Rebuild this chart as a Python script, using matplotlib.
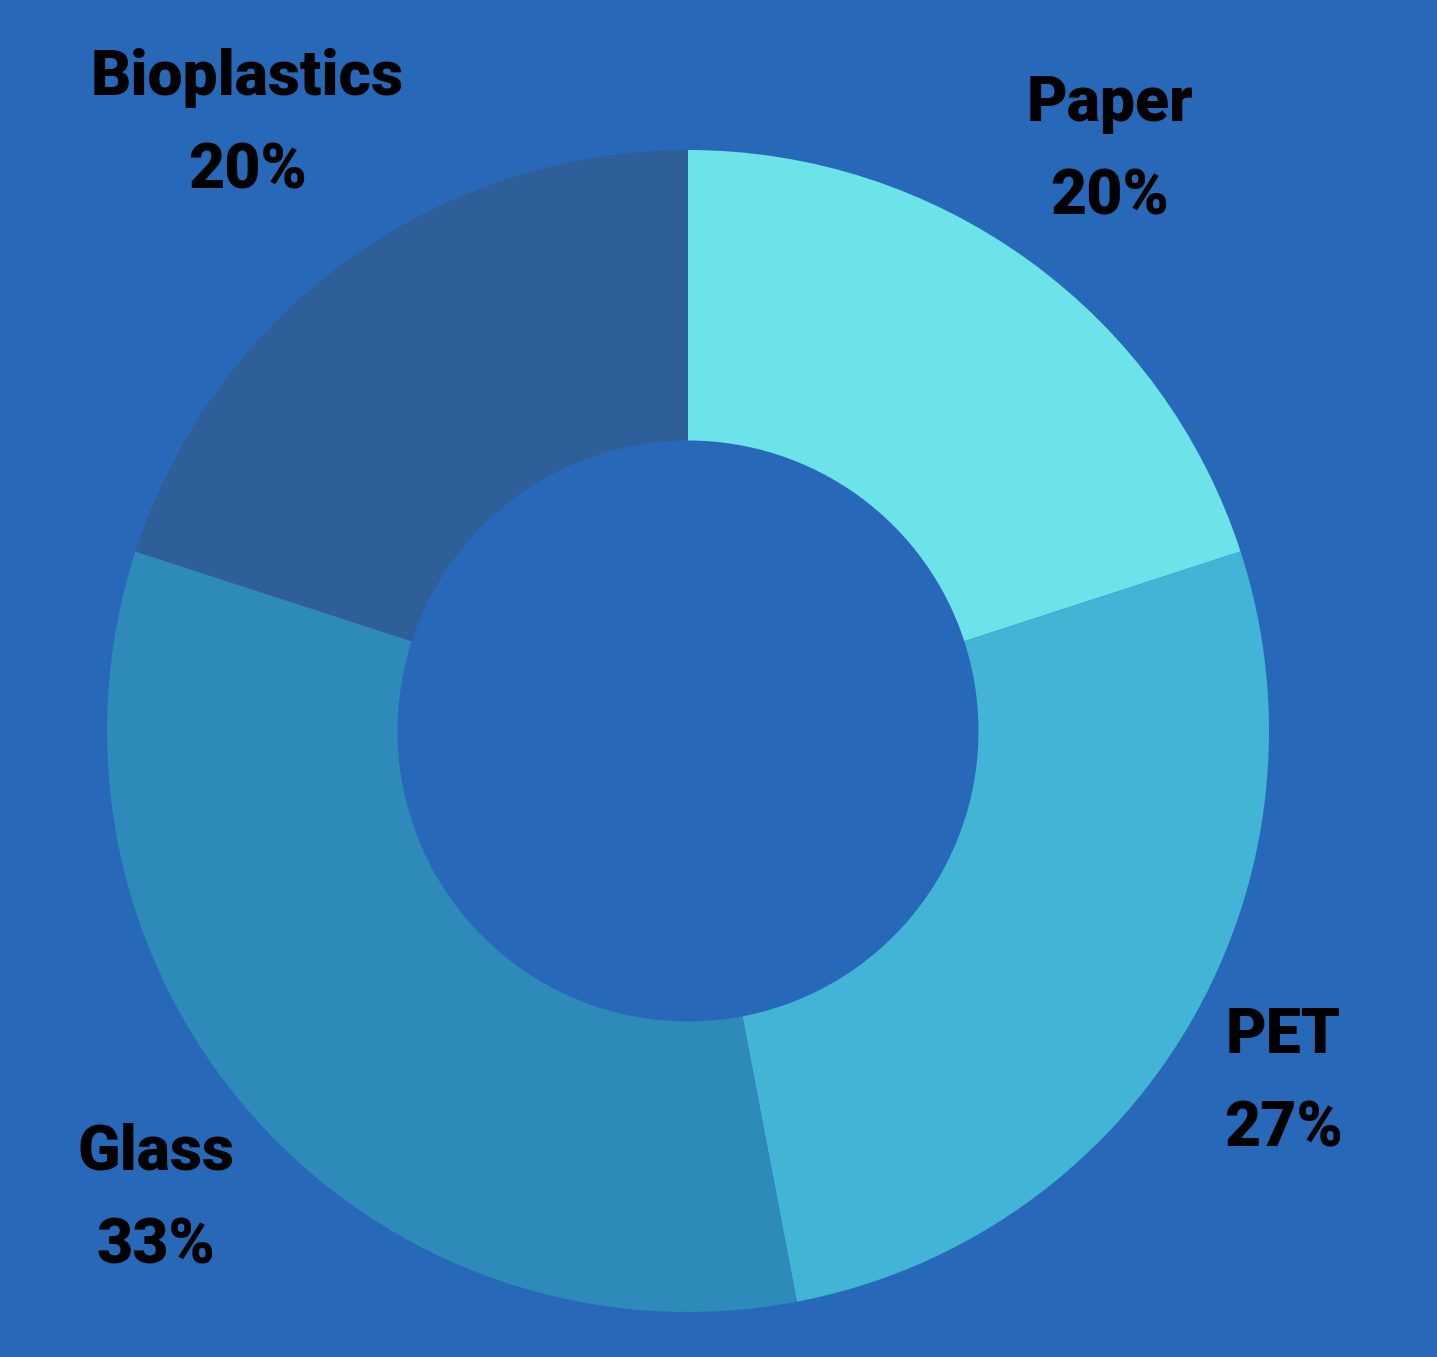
import matplotlib
matplotlib.use("Agg")
import matplotlib.pyplot as plt
import numpy as np

# data
labels = ["Paper", "PET", "Glass", "Bioplastics"]
shares = [20, 27, 33, 20]

BG = "#2769b8"
COLORS = ["#6be3e8", "#42b4d6", "#2d8ab9", "#2e5f98"]
LABEL_DIST = [1.235, 1.19, 1.22, 1.29]

W, H, DPI = 1437, 1357, 100
fig = plt.figure(figsize=(W / DPI, H / DPI), dpi=DPI, facecolor=BG)
ax = fig.add_axes([0, 0, 1, 1])
ax.set_facecolor(BG)

wedges, _ = ax.pie(shares, colors=COLORS, startangle=90, counterclock=False,
                   radius=1.0, wedgeprops=dict(width=0.5, linewidth=0))

# centre of the donut at (688, 731) px, radius 581 px
R_PX, CX, CY = 581.0, 688.0, 731.0
ax.set_xlim(-CX / R_PX, (W - CX) / R_PX)
ax.set_ylim(-(H - CY) / R_PX, CY / R_PX)
ax.set_aspect("equal")
ax.axis("off")

for w, lab, val, d in zip(wedges, labels, shares, LABEL_DIST):
    ang = np.deg2rad((w.theta1 + w.theta2) / 2)
    ax.text(d * np.cos(ang), d * np.sin(ang), f"{lab}\n{val}%",
            ha="center", va="center", fontsize=45, fontweight="black",
            family=["Roboto", "DejaVu Sans"], fontstretch="condensed",
            color="black", linespacing=1.72)

fig.savefig("out.png", dpi=DPI, facecolor=BG)
